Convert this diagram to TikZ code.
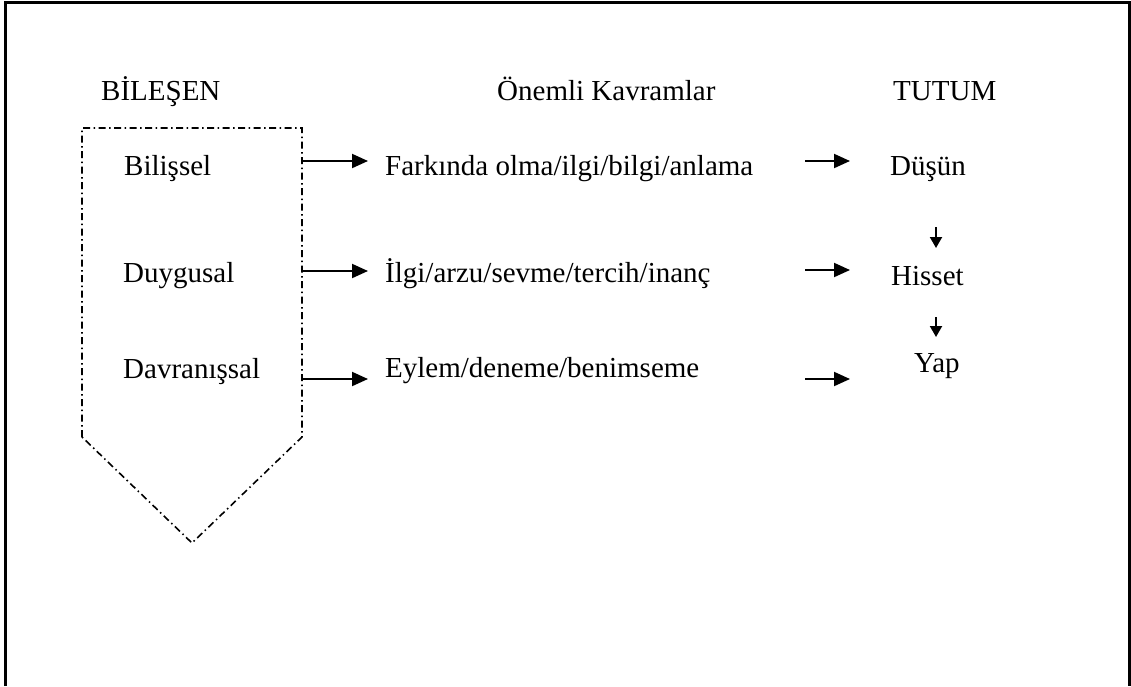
\documentclass[tikz,border=0pt]{standalone}
\usepackage{fontspec}
\setmainfont{Liberation Serif}
\usetikzlibrary{arrows.meta}
\begin{document}
\begin{tikzpicture}[x=1pt,y=-1pt,
  lbl/.style={anchor=base west,inner sep=0pt,font=\fontsize{29}{34}\selectfont},
  bigarrow/.style={line width=2pt,-{Triangle[length=16pt,width=14pt]}},
  smallarrow/.style={line width=2pt,-{Triangle[length=11pt,width=12pt]}},
  boxline/.style={line width=1.6pt,dash pattern=on 7pt off 3.5pt on 1.5pt off 3.5pt},
  frameline/.style={line width=3pt}]
\useasboundingbox (0,0) rectangle (1131,686);
% frame
\draw[frameline] (5.5,686) -- (5.5,2.5) -- (1129.5,2.5) -- (1129.5,686);
% headings
\node[lbl] (h1) at (101,100) {BİLEŞEN};
\node[lbl] (h2) at (497,100) {Önemli Kavramlar};
\node[lbl] (h3) at (893,100) {TUTUM};
% pentagon arrow box
\draw[boxline] (82,437) -- (82,128) -- (302,128) -- (302,437) -- (192,543) -- cycle;
% left column
\node[lbl] (b1) at (124,175) {Bilişsel};
\node[lbl] (b2) at (123,282) {Duygusal};
\node[lbl] (b3) at (123,378) {Davranışsal};
% middle column
\node[lbl] (k1) at (385,175) {Farkında olma/ilgi/bilgi/anlama};
\node[lbl] (k2) at (385,282) {İlgi/arzu/sevme/tercih/inanç};
\node[lbl] (k3) at (385,377) {Eylem/deneme/benimseme};
% right column
\node[lbl] (t1) at (890,175) {Düşün};
\node[lbl] (t2) at (891,285) {Hisset};
\node[lbl] (t3) at (914,372) {Yap};
% connector coordinates
\coordinate (a1s) at (302,161);
\coordinate (a2s) at (302,271);
\coordinate (a3s) at (302,379);
\coordinate (a1e) at (368,161);
\coordinate (a2e) at (368,271);
\coordinate (a3e) at (368,379);
\coordinate (r1s) at (805,161);
\coordinate (r2s) at (805,270);
\coordinate (r3s) at (805,379);
\coordinate (r1e) at (850,161);
\coordinate (r2e) at (850,270);
\coordinate (r3e) at (850,379);
\coordinate (d1s) at (936,227);
\coordinate (d1e) at (936,248);
\coordinate (d2s) at (936,317);
\coordinate (d2e) at (936,337);
\draw[bigarrow] (a1s) -- (a1e);
\draw[bigarrow] (a2s) -- (a2e);
\draw[bigarrow] (a3s) -- (a3e);
\draw[bigarrow] (r1s) -- (r1e);
\draw[bigarrow] (r2s) -- (r2e);
\draw[bigarrow] (r3s) -- (r3e);
\draw[smallarrow] (d1s) -- (d1e);
\draw[smallarrow] (d2s) -- (d2e);
\end{tikzpicture}
\end{document}
